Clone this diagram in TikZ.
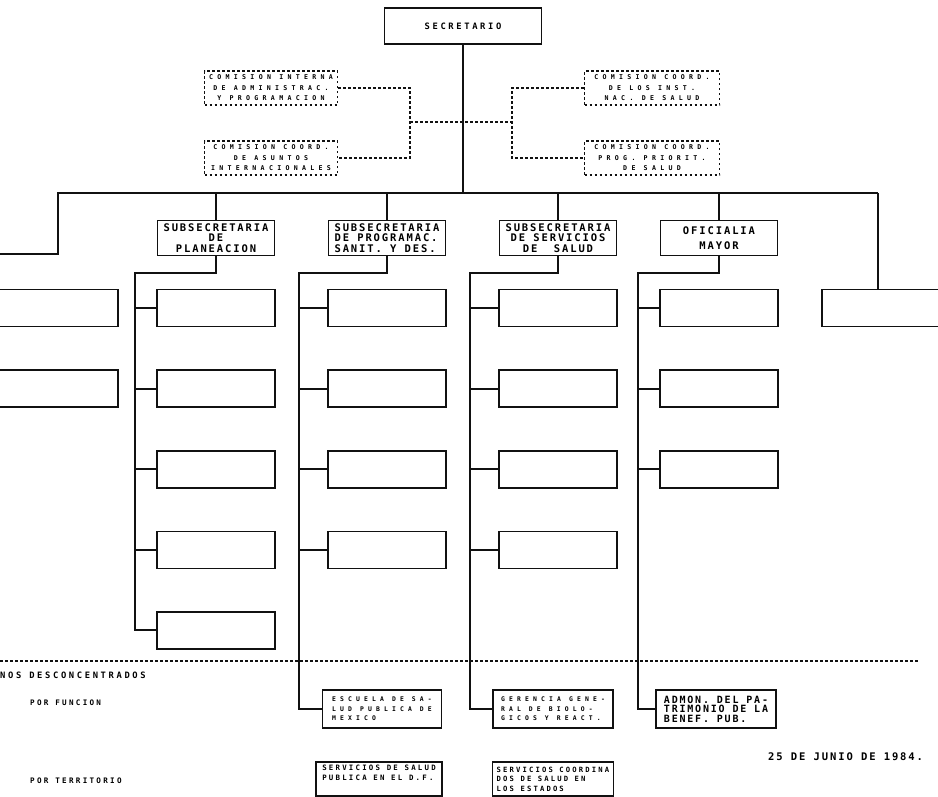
\documentclass[tikz,border=0pt]{standalone}
\usepackage{fontspec}
\usepackage{tikz}
\usetikzlibrary{positioning,calc}
\usepackage{xcolor}
\newfontfamily\orgmono[LetterSpace=18]{DejaVu Sans Mono}
\newfontfamily\orgmid[LetterSpace=30]{DejaVu Sans Mono}
\newfontfamily\orgwide[LetterSpace=65]{DejaVu Sans Mono}
\definecolor{orgink}{HTML}{111111}

\begin{document}
\begin{tikzpicture}[
  x=1pt, y=-1pt,
  node distance=42pt,
  sec/.style={
    rectangle, draw=orgink, line width=1.6pt,
    minimum width=157pt, minimum height=36pt,
    font=\orgmid\bfseries\fontsize{8.8}{11}\selectfont
  },
  com/.style={
    rectangle, draw=orgink, line width=1.4pt, dash pattern=on 2.5pt off 2.5pt,
    minimum width=133pt, minimum height=34pt, align=center, inner sep=1pt,
    font=\orgwide\bfseries\fontsize{6.6}{10.5}\selectfont
  },
  subsec/.style={
    rectangle, draw=orgink, line width=1.6pt,
    minimum width=117pt, minimum height=35pt, align=center, inner sep=2pt,
    font=\orgmono\bfseries\fontsize{10.5}{10.5}\selectfont
  },
  unit/.style={
    rectangle, draw=orgink, line width=1.6pt,
    minimum width=118pt, minimum height=37pt
  },
  desc/.style={
    rectangle, draw=orgink, line width=1.5pt,
    minimum width=120pt, minimum height=38pt, align=left, inner sep=2pt,
    font=\orgwide\bfseries\fontsize{6.4}{9.5}\selectfont
  },
  lab/.style={
    anchor=west, inner sep=0pt,
    font=\orgmid\bfseries\fontsize{7.6}{10}\selectfont
  },
  link/.style={draw=orgink, line width=2pt},
  dlink/.style={draw=orgink, line width=1.5pt, dash pattern=on 2.5pt off 2.5pt},
]
  \useasboundingbox (0,0) rectangle (938,796);

  % Secretario
  \node[sec] (secr) at (463,26) {SECRETARIO};

  % Comisiones
  \node[com] (ciap) at (271,88) {COMISION INTERNA\\DE ADMINISTRAC.\\Y PROGRAMACION};
  \node[com] (ccai) at (271,158) {COMISION COORD.\\DE ASUNTOS\\INTERNACIONALES};
  \node[com, minimum width=135pt] (ccin) at (652,88) {COMISION COORD.\\DE LOS INST.\\NAC. DE SALUD};
  \node[com, minimum width=135pt] (ccpp) at (652,158) {COMISION COORD.\\PROG. PRIORIT.\\DE SALUD};
  \coordinate (cl) at (410,122);
  \coordinate (cr) at (512,122);
  \draw[dlink] (ciap.east) -| (cl) |- (ccai.east);
  \draw[dlink] (ccin.west) -| (cr) |- (ccpp.west);
  \draw[dlink] (cl) -- (cr);

  % Bus
  \coordinate (busL) at (58,193);
  \coordinate (busR) at (878,193);
  \coordinate (lcut) at (0,254);
  \draw[link] (secr.south) -- (secr.south |- busL);
  \draw[link] (lcut) -| (busL) -- (busR);

  % Subsecretarias
  \node[subsec] (plan) at (216,238) {SUBSECRETARIA\\DE\\PLANEACION};
  \node[subsec, align=left] (prog) at (387,238) {SUBSECRETARIA\\DE PROGRAMAC.\\SANIT. Y DES.};
  \node[subsec] (serv) at (558,238) {SUBSECRETARIA\\DE SERVICIOS\\DE\ \ SALUD};
  \node[subsec] (ofic) at (719,238) {OFICIALIA\\[5pt]MAYOR};
  \foreach \s in {plan,prog,serv,ofic}
    \draw[link] (\s.north) -- (\s.north |- busL);

  % Unidades
  \node[unit, minimum width=124pt] (ext1) at (56,308) {};
  \node[unit, minimum width=124pt, below=of ext1] (ext2) {};
  \node[unit, minimum width=124pt] (ext3) at (884,308) {};
  \draw[link] (busR) -- (busR |- ext3.north);

  \node[unit] (pl1) at (216,308) {};
  \node[unit, below=of pl1] (pl2) {};
  \node[unit, below=of pl2] (pl3) {};
  \node[unit, below=of pl3] (pl4) {};
  \node[unit, below=of pl4] (pl5) {};

  \node[unit] (pg1) at (387,308) {};
  \node[unit, below=of pg1] (pg2) {};
  \node[unit, below=of pg2] (pg3) {};
  \node[unit, below=of pg3] (pg4) {};

  \node[unit] (sv1) at (558,308) {};
  \node[unit, below=of sv1] (sv2) {};
  \node[unit, below=of sv2] (sv3) {};
  \node[unit, below=of sv3] (sv4) {};

  \node[unit] (of1) at (719,308) {};
  \node[unit, below=of of1] (of2) {};
  \node[unit, below=of of2] (of3) {};

  % Organos desconcentrados
  \coordinate (sepL) at (0,661);
  \coordinate (sepR) at (918,661);
  \draw[dlink] (sepL) -- (sepR);
  \node[lab, font=\orgmid\bfseries\fontsize{8.8}{10}\selectfont] (orgd) at (0,675) {NOS DESCONCENTRADOS};
  \node[lab] (porf) at (30,703) {POR FUNCION};
  \node[lab] (port) at (30,781) {POR TERRITORIO};
  \node[lab, font=\orgmono\bfseries\fontsize{10.5}{10}\selectfont] (fecha) at (768,757) {25 DE JUNIO DE 1984.};

  \node[desc, minimum width=119pt] (escu) at (382,709) {ESCUELA DE SA-\\LUD PUBLICA DE\\MEXICO};
  \node[desc] (gere) at (553,709) {GERENCIA GENE-\\RAL DE BIOLO-\\GICOS Y REACT.};
  \node[desc, font=\orgmono\bfseries\fontsize{10}{9.5}\selectfont] (admo) at (716,709) {ADMON. DEL PA-\\TRIMONIO DE LA\\BENEF. PUB.};
  \node[desc, minimum width=126pt, minimum height=34pt, font=\orgmid\bfseries\fontsize{7.4}{9.5}\selectfont] (ssdf) at (379,779) {SERVICIOS DE SALUD\\PUBLICA EN EL D.F.\\ \strut};
  \node[desc, minimum width=121pt, minimum height=34pt, font=\orgmid\bfseries\fontsize{7.2}{9.5}\selectfont] (scoe) at (553,779) {SERVICIOS COORDINA\\DOS DE SALUD EN\\LOS ESTADOS};

  % Troncos
  \coordinate (plK) at (135,273);
  \coordinate (pgK) at (299,273);
  \coordinate (svK) at (470,273);
  \coordinate (ofK) at (638,273);
  \draw[link] (plan.south) |- (plK) |- (pl5.west);
  \draw[link] (prog.south) |- (pgK) |- (escu.west);
  \draw[link] (serv.south) |- (svK) |- (gere.west);
  \draw[link] (ofic.south) |- (ofK) |- (admo.west);
  \foreach \i in {1,...,4}
    \draw[link] (plK |- pl\i.west) -- (pl\i.west);
  \foreach \i in {1,...,4}
    \draw[link] (pgK |- pg\i.west) -- (pg\i.west);
  \foreach \i in {1,...,4}
    \draw[link] (svK |- sv\i.west) -- (sv\i.west);
  \foreach \i in {1,...,3}
    \draw[link] (ofK |- of\i.west) -- (of\i.west);
\end{tikzpicture}
\end{document}
